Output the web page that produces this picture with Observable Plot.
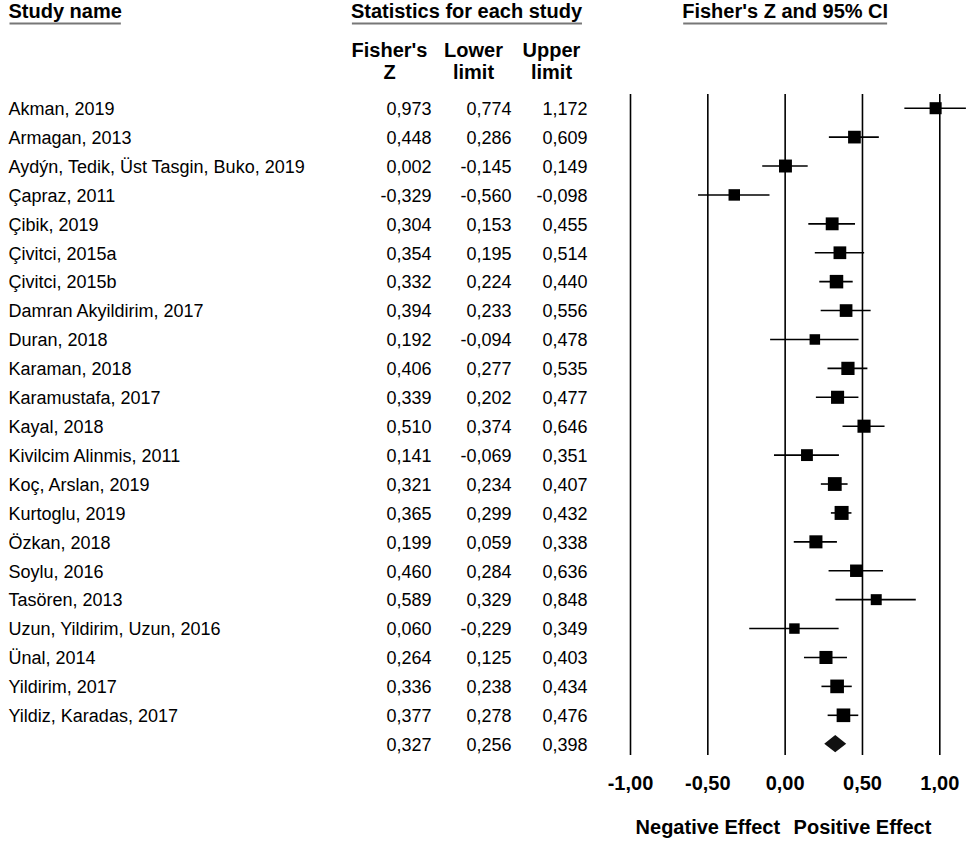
<!DOCTYPE html>
<html><head><meta charset="utf-8">
<script src="https://cdn.jsdelivr.net/npm/d3@7"></script>
<script src="https://cdn.jsdelivr.net/npm/@observablehq/plot@0.6"></script>
<style>html,body{margin:0;padding:0;background:#fff} svg{display:block}</style>
</head><body><div id="chart"></div>
<script>
const studyNames = [
  "Akman, 2019", "Armagan, 2013", "Aydýn, Tedik, Üst Tasgin, Buko, 2019", "Çapraz, 2011",
  "Çibik, 2019", "Çivitci, 2015a", "Çivitci, 2015b", "Damran Akyildirim, 2017", "Duran, 2018",
  "Karaman, 2018", "Karamustafa, 2017", "Kayal, 2018", "Kivilcim Alinmis, 2011", "Koç, Arslan, 2019",
  "Kurtoglu, 2019", "Özkan, 2018", "Soylu, 2016", "Tasören, 2013", "Uzun, Yildirim, Uzun, 2016",
  "Ünal, 2014", "Yildirim, 2017", "Yildiz, Karadas, 2017"
];
const fisherZ = [0.973, 0.448, 0.002, -0.329, 0.304, 0.354, 0.332, 0.394, 0.192, 0.406, 0.339,
  0.510, 0.141, 0.321, 0.365, 0.199, 0.460, 0.589, 0.060, 0.264, 0.336, 0.377];
const lowerLimit = [0.774, 0.286, -0.145, -0.560, 0.153, 0.195, 0.224, 0.233, -0.094, 0.277, 0.202,
  0.374, -0.069, 0.234, 0.299, 0.059, 0.284, 0.329, -0.229, 0.125, 0.238, 0.278];
const upperLimit = [1.172, 0.609, 0.149, -0.098, 0.455, 0.514, 0.440, 0.556, 0.478, 0.535, 0.477,
  0.646, 0.351, 0.407, 0.432, 0.338, 0.636, 0.848, 0.349, 0.403, 0.434, 0.476];
const summaryZ = 0.327, summaryLower = 0.256, summaryUpper = 0.398;
const tickValues = [-1, -0.5, 0, 0.5, 1];
const effectLabels = ["Negative Effect", "Positive Effect"];
const headerTitles = ["Study name", "Statistics for each study", "Fisher's Z and 95% CI"];
const columnHeaders = ["Fisher's\nZ", "Lower\nlimit", "Upper\nlimit"];

const loc = d3.formatLocale({decimal: ",", thousands: ".", grouping: [3], currency: ["", ""], minus: "-"});
const f3 = loc.format(".3f"), f2 = loc.format(".2f");

// random-effects weights (square area proportional to weight)
const tau2 = 0.025;
const studies = studyNames.map((name, i) => {
  const se = (upperLimit[i] - lowerLimit[i]) / 3.92;
  return {i, name, z: fisherZ[i], lower: lowerLimit[i], upper: upperLimit[i], w: 1 / (se * se + tau2)};
});
const nRows = studies.length;
const rows = [...studies, {i: nRows, name: "", z: summaryZ, lower: summaryLower, upper: summaryUpper}];
const wMax = d3.max(studies, d => d.w);
const dH = 0.3;
const diamond = [
  {y: nRows - dH, x1: summaryZ, x2: summaryZ},
  {y: nRows, x1: summaryLower, x2: summaryUpper},
  {y: nRows + dH, x1: summaryZ, x2: summaryZ}
];

const FONT = "'Liberation Sans', Arial, Helvetica, sans-serif";
const colRight = [431, 511, 587];
const colCenter = [389, 473, 551];
const bold = {fontSize: 20, fontWeight: "bold", lineAnchor: "middle"};

const marks = [
  Plot.ruleX(tickValues, {x: d => d, y1: -0.47, y2: nRows + 0.39, stroke: "black", strokeWidth: 1.6}),
  Plot.ruleY(studies, {y: "i", x1: "lower", x2: "upper", stroke: "black", strokeWidth: 1.6}),
  Plot.dot(studies, {x: "z", y: "i", r: "w", symbol: "square", fill: "black", stroke: "none"}),
  Plot.areaX(diamond, {y: "y", x1: "x1", x2: "x2", fill: "#111", curve: "linear"}),
  Plot.text(rows, {y: "i", text: "name", frameAnchor: "left", dx: 8, dy: 1, textAnchor: "start", fontSize: 18}),
  Plot.text(rows, {y: "i", text: d => f3(d.z), frameAnchor: "left", dx: colRight[0], dy: 1, textAnchor: "end", fontSize: 18}),
  Plot.text(rows, {y: "i", text: d => f3(d.lower), frameAnchor: "left", dx: colRight[1], dy: 1, textAnchor: "end", fontSize: 18}),
  Plot.text(rows, {y: "i", text: d => f3(d.upper), frameAnchor: "left", dx: colRight[2], dy: 1, textAnchor: "end", fontSize: 18}),
  Plot.text([headerTitles[0]], {text: d => d, frameAnchor: "top-left", dx: 8, dy: 11, textAnchor: "start", ...bold}),
  Plot.text([headerTitles[1]], {text: d => d, frameAnchor: "top-left", dx: 466, dy: 11, textAnchor: "middle", ...bold}),
  Plot.text([headerTitles[2]], {text: d => d, x: [0], frameAnchor: "top", dy: 11, textAnchor: "middle", ...bold}),
  ...columnHeaders.map((h, k) => Plot.text([h], {text: d => d, frameAnchor: "top-left", dx: colCenter[k], dy: 60.7, textAnchor: "middle", lineHeight: 1.1, ...bold})),
  Plot.axisX(tickValues, {anchor: "bottom", tickSize: 0, tickPadding: 2, tickFormat: f2, fontSize: 20, fontWeight: "bold", label: null}),
  Plot.text(effectLabels, {text: d => d, x: (d, i) => tickValues[1 + 2 * i], frameAnchor: "bottom", dy: 54, textAnchor: "middle", ...bold})
];

const svg = Plot.plot({
  width: 966,
  height: 843,
  marginTop: 0, marginLeft: 0, marginRight: 0, marginBottom: 70,
  style: {fontFamily: FONT, fontSize: "18px", background: "white", color: "black", overflow: "visible"},
  x: {domain: [-1, 1], range: [630, 939.3], label: null},
  y: {domain: [0, nRows], range: [107.7, 743.7], axis: null},
  r: {type: "sqrt", domain: [0, wMax], range: [0, 7.9]},
  marks
});
document.getElementById("chart").append(svg);

// gray underlines under the three section titles
const sr = svg.getBoundingClientRect();
svg.querySelectorAll("text").forEach(t => {
  if (headerTitles.includes(t.textContent)) {
    const b = t.getBoundingClientRect();
    const y = b.bottom - sr.top + 1.5;
    const line = document.createElementNS("http://www.w3.org/2000/svg", "line");
    line.setAttribute("x1", b.left - sr.left + 1);
    line.setAttribute("x2", b.right - sr.left - 1);
    line.setAttribute("y1", y);
    line.setAttribute("y2", y);
    line.setAttribute("stroke", "#777");
    line.setAttribute("stroke-width", 2);
    svg.append(line);
  }
});
</script>
</body></html>
